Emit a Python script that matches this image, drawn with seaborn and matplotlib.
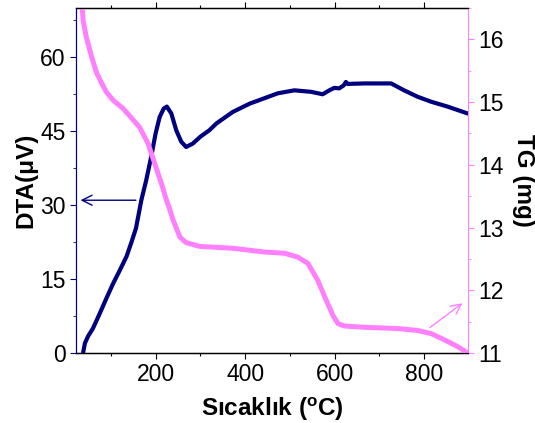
import matplotlib
matplotlib.use("Agg")
import matplotlib.pyplot as plt
from matplotlib.ticker import MultipleLocator
import pandas as pd
import seaborn as sns

# DTA signal (µV) versus temperature (°C)
dta_temp = [38, 42, 49, 60, 75, 90, 105, 120, 135, 146, 156, 168, 179, 190, 200, 209,
            218, 225, 235, 246, 257, 268, 283, 300, 320, 336, 372, 410, 443, 473,
            510, 547, 573, 588, 599, 610, 620, 625, 629, 666, 726, 755, 785, 815, 852, 897]
dta_uv = [0.1, 2.0, 3.4, 5.0, 8.0, 11.1, 14.1, 16.8, 19.6, 22.5, 25.3, 31.0, 35.1, 39.8, 44.6, 47.9,
          49.6, 50.0, 48.6, 45.2, 42.9, 41.8, 42.5, 43.9, 45.2, 46.6, 48.9, 50.6, 51.7, 52.7,
          53.3, 53.0, 52.5, 53.3, 53.8, 53.7, 54.3, 55.0, 54.6, 54.7, 54.7, 53.3, 52.0, 51.0, 50.0, 48.6]

# TG mass (mg) versus temperature (°C)
tg_temp = [35, 38, 45, 57, 68, 78, 90, 105, 127, 142, 164, 183, 198, 213, 224, 231, 239, 254, 268,
           298, 372, 443, 488, 517, 540, 562, 581, 596, 607, 622, 666, 740, 785, 815, 845, 875, 897]
tg_mg = [16.6, 16.3, 16.04, 15.72, 15.47, 15.32, 15.16, 15.03, 14.9, 14.78, 14.6, 14.34, 14.02, 13.7,
         13.44, 13.3, 13.12, 12.85, 12.76, 12.70, 12.67, 12.61, 12.59, 12.53, 12.43, 12.16, 11.84,
         11.6, 11.47, 11.43, 11.41, 11.39, 11.36, 11.31, 11.21, 11.1, 11.0]

x_ticks = [200, 400, 600, 800]
dta_ticks = [0, 15, 30, 45, 60]
tg_ticks = [11, 12, 13, 14, 15, 16]

NAVY = "#00007f"
PINK = "#ff80ff"

sns.set_style("ticks")
plt.rcParams["font.family"] = ["Liberation Sans", "DejaVu Sans"]
plt.rcParams["mathtext.fontset"] = "custom"
plt.rcParams["mathtext.rm"] = "Liberation Sans"
plt.rcParams["mathtext.bf"] = "Liberation Sans:bold"
plt.rcParams["text.color"] = "black"
plt.rcParams["axes.labelcolor"] = "black"

fig = plt.figure(figsize=(5.35, 4.23), dpi=100)
ax = fig.add_axes([0.142, 0.1655, 0.733, 0.8155])
ax2 = ax.twinx()

dta = pd.DataFrame({"T": dta_temp, "DTA": dta_uv})
tg = pd.DataFrame({"T": tg_temp, "TG": tg_mg})

sns.lineplot(data=dta, x="T", y="DTA", ax=ax, color=NAVY, lw=3.0, zorder=3,
             solid_joinstyle="round", solid_capstyle="round")
sns.lineplot(data=tg, x="T", y="TG", ax=ax2, color=PINK, lw=3.6, zorder=2,
             solid_joinstyle="round", solid_capstyle="butt")

ax.set_xlim(22, 898)
ax.set_ylim(0, 70)
ax2.set_ylim(11, 16.5)

ax.set_xticks(x_ticks)
ax.set_yticks(dta_ticks)
ax2.set_yticks(tg_ticks)
ax.xaxis.set_minor_locator(MultipleLocator(100))
ax.yaxis.set_minor_locator(MultipleLocator(7.5))
ax2.yaxis.set_minor_locator(MultipleLocator(0.5))

ax.tick_params(axis="x", which="both", direction="out", top=True, labelsize=16.5, colors="black")
ax.tick_params(axis="x", which="major", length=4, width=0.8)
ax.tick_params(axis="x", which="minor", length=2, width=0.8)
ax.tick_params(axis="y", which="both", direction="out", color=NAVY, labelsize=16.5, labelcolor="black")
ax.tick_params(axis="y", which="major", length=4)
ax.tick_params(axis="y", which="minor", length=2)
ax2.tick_params(axis="y", which="both", direction="out", color=PINK, labelsize=16.5, labelcolor="black")
ax2.tick_params(axis="y", which="major", length=4)
ax2.tick_params(axis="y", which="minor", length=2)

ax.spines["left"].set_color(NAVY)
ax2.spines["left"].set_color(NAVY)
ax2.spines["right"].set_color(PINK)
ax.spines["right"].set_visible(False)
for s in ("top", "bottom"):
    ax.spines[s].set_color("black")
    ax2.spines[s].set_color("black")
    ax.spines[s].set_linewidth(1.0)

ax.set_xlabel(r"Sıcaklık ($^\mathbf{o}$C)", fontsize=17.5, fontweight="bold", labelpad=6)
ax.set_ylabel("DTA(μV)", fontsize=17.5, fontweight="bold", labelpad=2)
ax2.set_ylabel("TG (mg)", fontsize=17.5, fontweight="bold", rotation=270, labelpad=22)

# arrows pointing each curve to its own axis
ax.annotate("", xy=(26, 31), xytext=(162, 31),
            arrowprops=dict(arrowstyle="->", color=NAVY, lw=1.0, mutation_scale=18))
ax2.annotate("", xy=(890, 11.82), xytext=(808, 11.38),
             arrowprops=dict(arrowstyle="->", color=PINK, lw=1.0, mutation_scale=18))

fig.savefig("out.png", dpi=100)
